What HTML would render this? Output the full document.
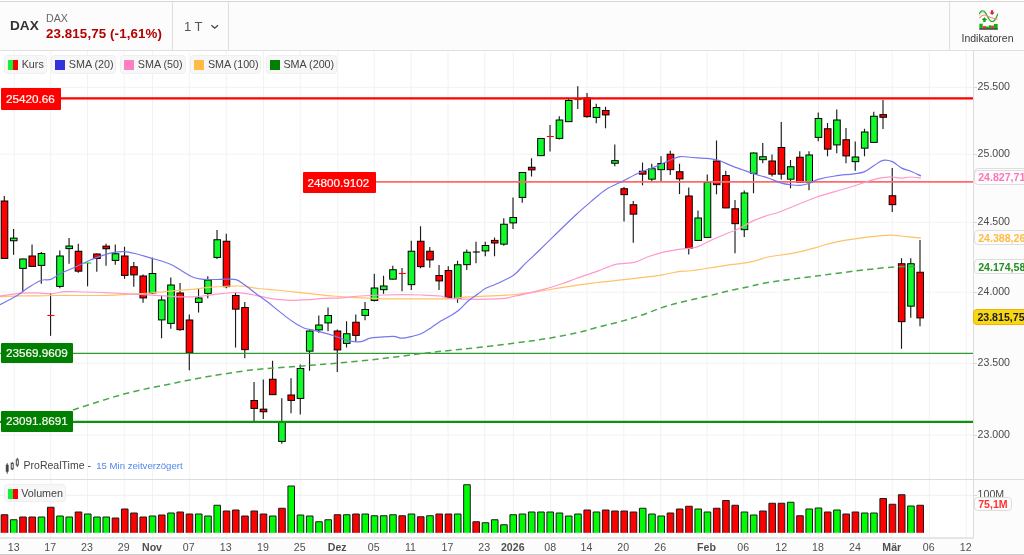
<!DOCTYPE html>
<html lang="de"><head><meta charset="utf-8"><title>DAX Chart</title>
<style>
html,body{margin:0;padding:0;}
body{width:1024px;height:555px;overflow:hidden;background:#fff;font-family:"Liberation Sans",sans-serif;position:relative;color:#444;}
#hdr{position:absolute;left:0;top:0;width:1024px;height:50px;background:#fcfcfc;border-top:1px solid #fff;box-sizing:border-box;}
#hdr .tl{position:absolute;left:0;top:0;width:1024px;height:1px;background:#d6d6d6;}
#hdr .bl{position:absolute;left:0;top:48.8px;width:1024px;height:1.15px;background:#e0e0e0;}
.vsep{position:absolute;top:1px;width:1.25px;height:47.8px;background:#dedede;}
#sym{position:absolute;left:10px;top:17px;font-size:13.6px;font-weight:bold;color:#333;line-height:16px;}
#nm{position:absolute;left:46px;top:11px;font-size:10.7px;color:#666;line-height:13px;}
#px{position:absolute;left:46px;top:25px;font-size:13.3px;letter-spacing:0.12px;font-weight:bold;color:#b30000;line-height:16px;white-space:nowrap;}
#tf{position:absolute;left:184px;top:18px;font-size:13px;color:#555;line-height:16px;}
#ind{position:absolute;left:950px;top:31.2px;width:75px;text-align:center;font-size:10.5px;color:#3a3a3a;line-height:12px;}
#axis{position:absolute;left:973px;top:51px;width:51px;height:486px;background:#fcfcfc;border-left:1.3px solid #dcdcdc;box-sizing:border-box;}
#xaxis{position:absolute;left:0;top:537px;width:1024px;height:16.5px;background:#fcfcfc;border-bottom:1.5px solid #cfcfcf;}
#xaxis span{position:absolute;top:2.5px;width:40px;text-align:center;font-size:10.6px;color:#505050;line-height:14px;}
#xaxis span.b{font-weight:bold;}
.chip{position:absolute;box-sizing:border-box;background:#f7f7f7;border:1px solid #efefef;border-radius:3.5px;font-size:10.75px;color:#444;line-height:16px;height:18.3px;top:55.3px;white-space:nowrap;}
.chip i{position:absolute;left:2.7px;top:3.8px;width:10px;height:10px;}
.chip b{font-weight:normal;position:absolute;left:16.5px;top:-0.2px;}
.ylab{position:absolute;left:977.6px;font-size:10.6px;color:#4a4a4a;line-height:12px;}
.tag{position:absolute;box-sizing:border-box;border-radius:1px;-webkit-text-stroke:0.2px #fff;font-size:11.7px;color:#fff4f4;line-height:21px;height:21.5px;padding:0 0 0 5px;white-space:nowrap;}
.pchip{position:absolute;left:973.6px;box-sizing:border-box;width:60px;height:14.8px;border:1px solid #dedede;border-radius:4px;background:#fcfcfc;font-size:10.6px;font-weight:bold;line-height:14.2px;padding-left:3.6px;white-space:nowrap;}
svg{position:absolute;left:0;top:0;}
</style></head><body>
<svg width="1024" height="555" viewBox="0 0 1024 555">
<line x1="14.25" y1="51" x2="14.25" y2="537" stroke="#f2f2f2" stroke-width="1"/>
<line x1="50.75" y1="51" x2="50.75" y2="537" stroke="#f2f2f2" stroke-width="1"/>
<line x1="87.50" y1="51" x2="87.50" y2="537" stroke="#f2f2f2" stroke-width="1"/>
<line x1="124.25" y1="51" x2="124.25" y2="537" stroke="#f2f2f2" stroke-width="1"/>
<line x1="152.50" y1="51" x2="152.50" y2="537" stroke="#f2f2f2" stroke-width="1"/>
<line x1="189.25" y1="51" x2="189.25" y2="537" stroke="#f2f2f2" stroke-width="1"/>
<line x1="226.25" y1="51" x2="226.25" y2="537" stroke="#f2f2f2" stroke-width="1"/>
<line x1="263.50" y1="51" x2="263.50" y2="537" stroke="#f2f2f2" stroke-width="1"/>
<line x1="300.25" y1="51" x2="300.25" y2="537" stroke="#f2f2f2" stroke-width="1"/>
<line x1="337.75" y1="51" x2="337.75" y2="537" stroke="#f2f2f2" stroke-width="1"/>
<line x1="374.25" y1="51" x2="374.25" y2="537" stroke="#f2f2f2" stroke-width="1"/>
<line x1="411.00" y1="51" x2="411.00" y2="537" stroke="#f2f2f2" stroke-width="1"/>
<line x1="448.00" y1="51" x2="448.00" y2="537" stroke="#f2f2f2" stroke-width="1"/>
<line x1="484.75" y1="51" x2="484.75" y2="537" stroke="#f2f2f2" stroke-width="1"/>
<line x1="513.25" y1="51" x2="513.25" y2="537" stroke="#f2f2f2" stroke-width="1"/>
<line x1="550.75" y1="51" x2="550.75" y2="537" stroke="#f2f2f2" stroke-width="1"/>
<line x1="587.00" y1="51" x2="587.00" y2="537" stroke="#f2f2f2" stroke-width="1"/>
<line x1="623.75" y1="51" x2="623.75" y2="537" stroke="#f2f2f2" stroke-width="1"/>
<line x1="660.75" y1="51" x2="660.75" y2="537" stroke="#f2f2f2" stroke-width="1"/>
<line x1="707.00" y1="51" x2="707.00" y2="537" stroke="#f2f2f2" stroke-width="1"/>
<line x1="743.75" y1="51" x2="743.75" y2="537" stroke="#f2f2f2" stroke-width="1"/>
<line x1="781.75" y1="51" x2="781.75" y2="537" stroke="#f2f2f2" stroke-width="1"/>
<line x1="818.50" y1="51" x2="818.50" y2="537" stroke="#f2f2f2" stroke-width="1"/>
<line x1="855.50" y1="51" x2="855.50" y2="537" stroke="#f2f2f2" stroke-width="1"/>
<line x1="892.25" y1="51" x2="892.25" y2="537" stroke="#f2f2f2" stroke-width="1"/>
<line x1="929.25" y1="51" x2="929.25" y2="537" stroke="#f2f2f2" stroke-width="1"/>
<line x1="966.25" y1="51" x2="966.25" y2="537" stroke="#f2f2f2" stroke-width="1"/>
<line x1="0" y1="87.3" x2="973" y2="87.3" stroke="#f2f2f2" stroke-width="1"/>
<line x1="0" y1="154.2" x2="973" y2="154.2" stroke="#f2f2f2" stroke-width="1"/>
<line x1="0" y1="222.3" x2="973" y2="222.3" stroke="#f2f2f2" stroke-width="1"/>
<line x1="0" y1="292.2" x2="973" y2="292.2" stroke="#f2f2f2" stroke-width="1"/>
<line x1="0" y1="363.2" x2="973" y2="363.2" stroke="#f2f2f2" stroke-width="1"/>
<line x1="0" y1="435.0" x2="973" y2="435.0" stroke="#f2f2f2" stroke-width="1"/>
<line x1="0" y1="495.3" x2="973" y2="495.3" stroke="#efefef" stroke-width="1"/>
<line x1="4.30" y1="196.0" x2="4.30" y2="258.8" stroke="#1c1c1c" stroke-width="1.15"/>
<rect x="1.20" y="201.00" width="6.6" height="57.40" fill="#ff0000" stroke="#000" stroke-width="1"/>
<line x1="13.55" y1="229.0" x2="13.55" y2="254.8" stroke="#1c1c1c" stroke-width="1.15"/>
<rect x="10.45" y="238.15" width="6.6" height="2.60" fill="#10fa2c" stroke="#000" stroke-width="1"/>
<line x1="22.80" y1="258.5" x2="22.80" y2="291.8" stroke="#1c1c1c" stroke-width="1.15"/>
<rect x="19.70" y="259.00" width="6.6" height="9.40" fill="#10fa2c" stroke="#000" stroke-width="1"/>
<line x1="32.05" y1="244.5" x2="32.05" y2="266.8" stroke="#1c1c1c" stroke-width="1.15"/>
<rect x="28.95" y="256.00" width="6.6" height="10.40" fill="#ff0000" stroke="#000" stroke-width="1"/>
<line x1="41.30" y1="252.0" x2="41.30" y2="283.8" stroke="#1c1c1c" stroke-width="1.15"/>
<rect x="38.20" y="253.50" width="6.6" height="11.90" fill="#10fa2c" stroke="#000" stroke-width="1"/>
<line x1="50.55" y1="293.0" x2="50.55" y2="335.8" stroke="#1c1c1c" stroke-width="1.15"/>
<line x1="47.35" y1="315.5" x2="54.35" y2="315.5" stroke="#ff0000" stroke-width="1.1"/>
<line x1="59.80" y1="250.5" x2="59.80" y2="288.3" stroke="#1c1c1c" stroke-width="1.15"/>
<rect x="56.70" y="256.00" width="6.6" height="30.40" fill="#10fa2c" stroke="#000" stroke-width="1"/>
<line x1="69.05" y1="238.0" x2="69.05" y2="263.8" stroke="#1c1c1c" stroke-width="1.15"/>
<rect x="65.95" y="246.02" width="6.6" height="2.60" fill="#10fa2c" stroke="#000" stroke-width="1"/>
<line x1="78.30" y1="243.75" x2="78.30" y2="272.8" stroke="#1c1c1c" stroke-width="1.15"/>
<rect x="75.20" y="251.25" width="6.6" height="19.90" fill="#ff0000" stroke="#000" stroke-width="1"/>
<line x1="87.55" y1="263.0" x2="87.55" y2="286.3" stroke="#1c1c1c" stroke-width="1.15"/>
<line x1="84.35" y1="263.0" x2="91.35" y2="263.0" stroke="#00dd00" stroke-width="1.1"/>
<line x1="96.79" y1="253.5" x2="96.79" y2="271.8" stroke="#1c1c1c" stroke-width="1.15"/>
<rect x="93.69" y="254.00" width="6.6" height="4.40" fill="#ff0000" stroke="#000" stroke-width="1"/>
<line x1="106.04" y1="243.75" x2="106.04" y2="265.8" stroke="#1c1c1c" stroke-width="1.15"/>
<rect x="102.94" y="246.15" width="6.6" height="2.60" fill="#ff0000" stroke="#000" stroke-width="1"/>
<line x1="115.29" y1="244.5" x2="115.29" y2="264.8" stroke="#1c1c1c" stroke-width="1.15"/>
<rect x="112.19" y="253.75" width="6.6" height="6.65" fill="#10fa2c" stroke="#000" stroke-width="1"/>
<line x1="124.54" y1="246.75" x2="124.54" y2="278.8" stroke="#1c1c1c" stroke-width="1.15"/>
<rect x="121.44" y="256.00" width="6.6" height="19.40" fill="#ff0000" stroke="#000" stroke-width="1"/>
<line x1="133.79" y1="262.0" x2="133.79" y2="286.8" stroke="#1c1c1c" stroke-width="1.15"/>
<rect x="130.69" y="266.75" width="6.6" height="8.15" fill="#ff0000" stroke="#000" stroke-width="1"/>
<line x1="143.04" y1="274.5" x2="143.04" y2="302.8" stroke="#1c1c1c" stroke-width="1.15"/>
<rect x="139.94" y="276.00" width="6.6" height="21.90" fill="#ff0000" stroke="#000" stroke-width="1"/>
<line x1="152.29" y1="257.5" x2="152.29" y2="293.8" stroke="#1c1c1c" stroke-width="1.15"/>
<rect x="149.19" y="273.50" width="6.6" height="19.40" fill="#10fa2c" stroke="#000" stroke-width="1"/>
<line x1="161.54" y1="295.5" x2="161.54" y2="338.3" stroke="#1c1c1c" stroke-width="1.15"/>
<rect x="158.44" y="300.00" width="6.6" height="19.90" fill="#10fa2c" stroke="#000" stroke-width="1"/>
<line x1="170.79" y1="277.5" x2="170.79" y2="328.8" stroke="#1c1c1c" stroke-width="1.15"/>
<rect x="167.69" y="285.00" width="6.6" height="38.40" fill="#10fa2c" stroke="#000" stroke-width="1"/>
<line x1="180.04" y1="283.0" x2="180.04" y2="330.8" stroke="#1c1c1c" stroke-width="1.15"/>
<rect x="176.94" y="293.00" width="6.6" height="36.65" fill="#ff0000" stroke="#000" stroke-width="1"/>
<line x1="189.29" y1="314.5" x2="189.29" y2="370.3" stroke="#1c1c1c" stroke-width="1.15"/>
<rect x="186.19" y="320.00" width="6.6" height="32.90" fill="#ff0000" stroke="#000" stroke-width="1"/>
<line x1="198.54" y1="288.75" x2="198.54" y2="312.55" stroke="#1c1c1c" stroke-width="1.15"/>
<rect x="195.44" y="298.00" width="6.6" height="4.40" fill="#10fa2c" stroke="#000" stroke-width="1"/>
<line x1="207.79" y1="276.25" x2="207.79" y2="298.3" stroke="#1c1c1c" stroke-width="1.15"/>
<rect x="204.69" y="280.00" width="6.6" height="13.40" fill="#10fa2c" stroke="#000" stroke-width="1"/>
<line x1="217.04" y1="230.0" x2="217.04" y2="259.05" stroke="#1c1c1c" stroke-width="1.15"/>
<rect x="213.94" y="239.75" width="6.6" height="17.65" fill="#10fa2c" stroke="#000" stroke-width="1"/>
<line x1="226.29" y1="233.75" x2="226.29" y2="288.3" stroke="#1c1c1c" stroke-width="1.15"/>
<rect x="223.19" y="241.25" width="6.6" height="45.40" fill="#ff0000" stroke="#000" stroke-width="1"/>
<line x1="235.54" y1="292.5" x2="235.54" y2="347.55" stroke="#1c1c1c" stroke-width="1.15"/>
<rect x="232.44" y="295.50" width="6.6" height="13.65" fill="#ff0000" stroke="#000" stroke-width="1"/>
<line x1="244.79" y1="302.0" x2="244.79" y2="358.3" stroke="#1c1c1c" stroke-width="1.15"/>
<rect x="241.69" y="307.50" width="6.6" height="42.15" fill="#ff0000" stroke="#000" stroke-width="1"/>
<line x1="254.04" y1="382.0" x2="254.04" y2="421.8" stroke="#1c1c1c" stroke-width="1.15"/>
<rect x="250.94" y="400.50" width="6.6" height="7.90" fill="#ff0000" stroke="#000" stroke-width="1"/>
<line x1="263.29" y1="379.5" x2="263.29" y2="419.05" stroke="#1c1c1c" stroke-width="1.15"/>
<rect x="260.19" y="409.15" width="6.6" height="2.60" fill="#ff0000" stroke="#000" stroke-width="1"/>
<line x1="272.54" y1="360.75" x2="272.54" y2="395.05" stroke="#1c1c1c" stroke-width="1.15"/>
<rect x="269.44" y="379.25" width="6.6" height="15.40" fill="#ff0000" stroke="#000" stroke-width="1"/>
<line x1="281.78" y1="398.25" x2="281.78" y2="443.8" stroke="#1c1c1c" stroke-width="1.15"/>
<rect x="278.68" y="422.50" width="6.6" height="18.90" fill="#10fa2c" stroke="#000" stroke-width="1"/>
<line x1="291.03" y1="378.25" x2="291.03" y2="413.3" stroke="#1c1c1c" stroke-width="1.15"/>
<rect x="287.93" y="395.00" width="6.6" height="5.40" fill="#ff0000" stroke="#000" stroke-width="1"/>
<line x1="300.28" y1="364.5" x2="300.28" y2="414.55" stroke="#1c1c1c" stroke-width="1.15"/>
<rect x="297.18" y="368.50" width="6.6" height="29.90" fill="#10fa2c" stroke="#000" stroke-width="1"/>
<line x1="309.53" y1="330.5" x2="309.53" y2="370.8" stroke="#1c1c1c" stroke-width="1.15"/>
<rect x="306.43" y="331.00" width="6.6" height="20.15" fill="#10fa2c" stroke="#000" stroke-width="1"/>
<line x1="318.78" y1="315.5" x2="318.78" y2="332.8" stroke="#1c1c1c" stroke-width="1.15"/>
<rect x="315.68" y="325.00" width="6.6" height="4.90" fill="#10fa2c" stroke="#000" stroke-width="1"/>
<line x1="328.03" y1="307.5" x2="328.03" y2="331.3" stroke="#1c1c1c" stroke-width="1.15"/>
<rect x="324.93" y="315.50" width="6.6" height="7.40" fill="#10fa2c" stroke="#000" stroke-width="1"/>
<line x1="337.28" y1="329.5" x2="337.28" y2="372.05" stroke="#1c1c1c" stroke-width="1.15"/>
<rect x="334.18" y="331.00" width="6.6" height="18.90" fill="#ff0000" stroke="#000" stroke-width="1"/>
<line x1="346.53" y1="321.25" x2="346.53" y2="347.55" stroke="#1c1c1c" stroke-width="1.15"/>
<rect x="343.43" y="333.75" width="6.6" height="9.65" fill="#10fa2c" stroke="#000" stroke-width="1"/>
<line x1="355.78" y1="314.5" x2="355.78" y2="342.05" stroke="#1c1c1c" stroke-width="1.15"/>
<rect x="352.68" y="322.25" width="6.6" height="13.15" fill="#ff0000" stroke="#000" stroke-width="1"/>
<line x1="365.03" y1="302.0" x2="365.03" y2="320.3" stroke="#1c1c1c" stroke-width="1.15"/>
<rect x="361.93" y="309.50" width="6.6" height="5.90" fill="#10fa2c" stroke="#000" stroke-width="1"/>
<line x1="374.28" y1="273.75" x2="374.28" y2="301.55" stroke="#1c1c1c" stroke-width="1.15"/>
<rect x="371.18" y="288.00" width="6.6" height="12.40" fill="#10fa2c" stroke="#000" stroke-width="1"/>
<line x1="383.53" y1="275.75" x2="383.53" y2="293.8" stroke="#1c1c1c" stroke-width="1.15"/>
<rect x="380.43" y="286.00" width="6.6" height="3.65" fill="#10fa2c" stroke="#000" stroke-width="1"/>
<line x1="392.78" y1="265.75" x2="392.78" y2="279.55" stroke="#1c1c1c" stroke-width="1.15"/>
<rect x="389.68" y="269.75" width="6.6" height="9.40" fill="#10fa2c" stroke="#000" stroke-width="1"/>
<line x1="402.03" y1="268.0" x2="402.03" y2="291.3" stroke="#1c1c1c" stroke-width="1.15"/>
<line x1="398.83" y1="273.5" x2="405.83" y2="273.5" stroke="#ff0000" stroke-width="1.1"/>
<line x1="411.28" y1="240.75" x2="411.28" y2="290.05" stroke="#1c1c1c" stroke-width="1.15"/>
<rect x="408.18" y="251.25" width="6.6" height="33.40" fill="#10fa2c" stroke="#000" stroke-width="1"/>
<line x1="420.53" y1="226.25" x2="420.53" y2="268.3" stroke="#1c1c1c" stroke-width="1.15"/>
<rect x="417.43" y="241.25" width="6.6" height="25.40" fill="#ff0000" stroke="#000" stroke-width="1"/>
<line x1="429.78" y1="247.0" x2="429.78" y2="267.8" stroke="#1c1c1c" stroke-width="1.15"/>
<rect x="426.68" y="251.25" width="6.6" height="8.65" fill="#ff0000" stroke="#000" stroke-width="1"/>
<line x1="439.03" y1="265.0" x2="439.03" y2="290.05" stroke="#1c1c1c" stroke-width="1.15"/>
<rect x="435.93" y="275.50" width="6.6" height="5.40" fill="#ff0000" stroke="#000" stroke-width="1"/>
<line x1="448.28" y1="266.25" x2="448.28" y2="298.3" stroke="#1c1c1c" stroke-width="1.15"/>
<rect x="445.18" y="270.50" width="6.6" height="26.90" fill="#ff0000" stroke="#000" stroke-width="1"/>
<line x1="457.53" y1="260.75" x2="457.53" y2="302.8" stroke="#1c1c1c" stroke-width="1.15"/>
<rect x="454.43" y="264.75" width="6.6" height="33.65" fill="#10fa2c" stroke="#000" stroke-width="1"/>
<line x1="466.77" y1="249.5" x2="466.77" y2="270.05" stroke="#1c1c1c" stroke-width="1.15"/>
<rect x="463.67" y="252.25" width="6.6" height="12.40" fill="#10fa2c" stroke="#000" stroke-width="1"/>
<line x1="476.02" y1="241.75" x2="476.02" y2="263.3" stroke="#1c1c1c" stroke-width="1.15"/>
<line x1="472.82" y1="252.0" x2="479.82" y2="252.0" stroke="#000" stroke-width="1.1"/>
<line x1="485.27" y1="241.75" x2="485.27" y2="256.3" stroke="#1c1c1c" stroke-width="1.15"/>
<rect x="482.17" y="245.50" width="6.6" height="5.40" fill="#10fa2c" stroke="#000" stroke-width="1"/>
<line x1="494.52" y1="237.5" x2="494.52" y2="256.3" stroke="#1c1c1c" stroke-width="1.15"/>
<rect x="491.42" y="240.40" width="6.6" height="2.60" fill="#ff0000" stroke="#000" stroke-width="1"/>
<line x1="503.77" y1="218.25" x2="503.77" y2="245.8" stroke="#1c1c1c" stroke-width="1.15"/>
<rect x="500.67" y="224.25" width="6.6" height="19.90" fill="#10fa2c" stroke="#000" stroke-width="1"/>
<line x1="513.02" y1="197.5" x2="513.02" y2="229.05" stroke="#1c1c1c" stroke-width="1.15"/>
<rect x="509.92" y="217.50" width="6.6" height="5.40" fill="#10fa2c" stroke="#000" stroke-width="1"/>
<line x1="522.27" y1="172.0" x2="522.27" y2="202.8" stroke="#1c1c1c" stroke-width="1.15"/>
<rect x="519.17" y="172.50" width="6.6" height="24.90" fill="#10fa2c" stroke="#000" stroke-width="1"/>
<line x1="531.52" y1="158.25" x2="531.52" y2="176.55" stroke="#1c1c1c" stroke-width="1.15"/>
<rect x="528.42" y="167.27" width="6.6" height="2.60" fill="#ff0000" stroke="#000" stroke-width="1"/>
<line x1="540.77" y1="138.0" x2="540.77" y2="156.05" stroke="#1c1c1c" stroke-width="1.15"/>
<rect x="537.67" y="138.50" width="6.6" height="17.15" fill="#10fa2c" stroke="#000" stroke-width="1"/>
<line x1="550.02" y1="125.0" x2="550.02" y2="151.55" stroke="#1c1c1c" stroke-width="1.15"/>
<line x1="546.82" y1="136.5" x2="553.82" y2="136.5" stroke="#ff0000" stroke-width="1.1"/>
<line x1="559.27" y1="116.25" x2="559.27" y2="139.55" stroke="#1c1c1c" stroke-width="1.15"/>
<rect x="556.17" y="120.00" width="6.6" height="18.40" fill="#10fa2c" stroke="#000" stroke-width="1"/>
<line x1="568.52" y1="98.0" x2="568.52" y2="122.05" stroke="#1c1c1c" stroke-width="1.15"/>
<rect x="565.42" y="100.50" width="6.6" height="21.15" fill="#10fa2c" stroke="#000" stroke-width="1"/>
<line x1="577.77" y1="86.25" x2="577.77" y2="109.05" stroke="#1c1c1c" stroke-width="1.15"/>
<line x1="574.57" y1="99.6" x2="581.57" y2="99.6" stroke="#5a6a00" stroke-width="1.1"/>
<line x1="587.02" y1="93.0" x2="587.02" y2="117.8" stroke="#1c1c1c" stroke-width="1.15"/>
<rect x="583.92" y="98.00" width="6.6" height="18.65" fill="#ff0000" stroke="#000" stroke-width="1"/>
<line x1="596.27" y1="103.75" x2="596.27" y2="123.3" stroke="#1c1c1c" stroke-width="1.15"/>
<rect x="593.17" y="107.50" width="6.6" height="9.90" fill="#10fa2c" stroke="#000" stroke-width="1"/>
<line x1="605.52" y1="106.75" x2="605.52" y2="128.3" stroke="#1c1c1c" stroke-width="1.15"/>
<rect x="602.42" y="110.50" width="6.6" height="4.40" fill="#ff0000" stroke="#000" stroke-width="1"/>
<line x1="614.77" y1="144.5" x2="614.77" y2="166.3" stroke="#1c1c1c" stroke-width="1.15"/>
<rect x="611.67" y="160.65" width="6.6" height="2.60" fill="#10fa2c" stroke="#000" stroke-width="1"/>
<line x1="624.02" y1="187.0" x2="624.02" y2="221.55" stroke="#1c1c1c" stroke-width="1.15"/>
<rect x="620.92" y="188.75" width="6.6" height="5.90" fill="#ff0000" stroke="#000" stroke-width="1"/>
<line x1="633.27" y1="201.0" x2="633.27" y2="242.8" stroke="#1c1c1c" stroke-width="1.15"/>
<rect x="630.17" y="204.75" width="6.6" height="9.40" fill="#ff0000" stroke="#000" stroke-width="1"/>
<line x1="642.52" y1="162.5" x2="642.52" y2="185.3" stroke="#1c1c1c" stroke-width="1.15"/>
<rect x="639.42" y="171.25" width="6.6" height="2.90" fill="#ff0000" stroke="#000" stroke-width="1"/>
<line x1="651.76" y1="163.75" x2="651.76" y2="182.05" stroke="#1c1c1c" stroke-width="1.15"/>
<rect x="648.66" y="168.75" width="6.6" height="10.40" fill="#10fa2c" stroke="#000" stroke-width="1"/>
<line x1="661.01" y1="156.25" x2="661.01" y2="182.05" stroke="#1c1c1c" stroke-width="1.15"/>
<rect x="657.91" y="163.50" width="6.6" height="6.15" fill="#10fa2c" stroke="#000" stroke-width="1"/>
<line x1="670.26" y1="150.75" x2="670.26" y2="175.05" stroke="#1c1c1c" stroke-width="1.15"/>
<rect x="667.16" y="154.25" width="6.6" height="15.40" fill="#ff0000" stroke="#000" stroke-width="1"/>
<line x1="679.51" y1="163.75" x2="679.51" y2="194.05" stroke="#1c1c1c" stroke-width="1.15"/>
<rect x="676.41" y="171.75" width="6.6" height="7.15" fill="#ff0000" stroke="#000" stroke-width="1"/>
<line x1="688.76" y1="187.5" x2="688.76" y2="254.55" stroke="#1c1c1c" stroke-width="1.15"/>
<rect x="685.66" y="196.00" width="6.6" height="52.40" fill="#ff0000" stroke="#000" stroke-width="1"/>
<line x1="698.01" y1="210.5" x2="698.01" y2="240.8" stroke="#1c1c1c" stroke-width="1.15"/>
<rect x="694.91" y="218.00" width="6.6" height="22.40" fill="#10fa2c" stroke="#000" stroke-width="1"/>
<line x1="707.26" y1="174.5" x2="707.26" y2="237.8" stroke="#1c1c1c" stroke-width="1.15"/>
<rect x="704.16" y="182.50" width="6.6" height="54.90" fill="#10fa2c" stroke="#000" stroke-width="1"/>
<line x1="716.51" y1="140.5" x2="716.51" y2="194.3" stroke="#1c1c1c" stroke-width="1.15"/>
<rect x="713.41" y="161.00" width="6.6" height="23.65" fill="#ff0000" stroke="#000" stroke-width="1"/>
<line x1="725.76" y1="170.75" x2="725.76" y2="208.3" stroke="#1c1c1c" stroke-width="1.15"/>
<rect x="722.66" y="175.50" width="6.6" height="32.40" fill="#ff0000" stroke="#000" stroke-width="1"/>
<line x1="735.01" y1="200.0" x2="735.01" y2="253.3" stroke="#1c1c1c" stroke-width="1.15"/>
<rect x="731.91" y="208.75" width="6.6" height="14.90" fill="#ff0000" stroke="#000" stroke-width="1"/>
<line x1="744.26" y1="190.5" x2="744.26" y2="237.05" stroke="#1c1c1c" stroke-width="1.15"/>
<rect x="741.16" y="193.00" width="6.6" height="36.65" fill="#10fa2c" stroke="#000" stroke-width="1"/>
<line x1="753.51" y1="152.5" x2="753.51" y2="193.3" stroke="#1c1c1c" stroke-width="1.15"/>
<rect x="750.41" y="153.00" width="6.6" height="20.40" fill="#10fa2c" stroke="#000" stroke-width="1"/>
<line x1="762.76" y1="143.0" x2="762.76" y2="163.3" stroke="#1c1c1c" stroke-width="1.15"/>
<rect x="759.66" y="156.75" width="6.6" height="2.90" fill="#10fa2c" stroke="#000" stroke-width="1"/>
<line x1="772.01" y1="154.5" x2="772.01" y2="176.55" stroke="#1c1c1c" stroke-width="1.15"/>
<rect x="768.91" y="161.00" width="6.6" height="13.15" fill="#ff0000" stroke="#000" stroke-width="1"/>
<line x1="781.26" y1="122.0" x2="781.26" y2="179.55" stroke="#1c1c1c" stroke-width="1.15"/>
<rect x="778.16" y="147.50" width="6.6" height="26.65" fill="#ff0000" stroke="#000" stroke-width="1"/>
<line x1="790.51" y1="160.0" x2="790.51" y2="188.3" stroke="#1c1c1c" stroke-width="1.15"/>
<rect x="787.41" y="166.75" width="6.6" height="12.40" fill="#10fa2c" stroke="#000" stroke-width="1"/>
<line x1="799.76" y1="151.25" x2="799.76" y2="182.8" stroke="#1c1c1c" stroke-width="1.15"/>
<rect x="796.66" y="157.25" width="6.6" height="25.15" fill="#ff0000" stroke="#000" stroke-width="1"/>
<line x1="809.01" y1="151.25" x2="809.01" y2="190.3" stroke="#1c1c1c" stroke-width="1.15"/>
<rect x="805.91" y="155.00" width="6.6" height="27.40" fill="#10fa2c" stroke="#000" stroke-width="1"/>
<line x1="818.26" y1="112.5" x2="818.26" y2="141.3" stroke="#1c1c1c" stroke-width="1.15"/>
<rect x="815.16" y="118.50" width="6.6" height="18.90" fill="#10fa2c" stroke="#000" stroke-width="1"/>
<line x1="827.51" y1="123.0" x2="827.51" y2="156.3" stroke="#1c1c1c" stroke-width="1.15"/>
<rect x="824.41" y="128.75" width="6.6" height="20.40" fill="#ff0000" stroke="#000" stroke-width="1"/>
<line x1="836.75" y1="109.5" x2="836.75" y2="153.3" stroke="#1c1c1c" stroke-width="1.15"/>
<rect x="833.65" y="120.00" width="6.6" height="24.90" fill="#10fa2c" stroke="#000" stroke-width="1"/>
<line x1="846.00" y1="128.0" x2="846.00" y2="163.3" stroke="#1c1c1c" stroke-width="1.15"/>
<rect x="842.90" y="139.75" width="6.6" height="16.15" fill="#ff0000" stroke="#000" stroke-width="1"/>
<line x1="855.25" y1="141.5" x2="855.25" y2="170.8" stroke="#1c1c1c" stroke-width="1.15"/>
<rect x="852.15" y="157.00" width="6.6" height="4.65" fill="#10fa2c" stroke="#000" stroke-width="1"/>
<line x1="864.50" y1="128.75" x2="864.50" y2="156.3" stroke="#1c1c1c" stroke-width="1.15"/>
<rect x="861.40" y="132.00" width="6.6" height="16.15" fill="#10fa2c" stroke="#000" stroke-width="1"/>
<line x1="873.75" y1="111.75" x2="873.75" y2="142.8" stroke="#1c1c1c" stroke-width="1.15"/>
<rect x="870.65" y="116.25" width="6.6" height="26.15" fill="#10fa2c" stroke="#000" stroke-width="1"/>
<line x1="883.00" y1="100.0" x2="883.00" y2="129.05" stroke="#1c1c1c" stroke-width="1.15"/>
<rect x="879.90" y="114.65" width="6.6" height="2.60" fill="#ff0000" stroke="#000" stroke-width="1"/>
<line x1="892.25" y1="168.0" x2="892.25" y2="212.05" stroke="#1c1c1c" stroke-width="1.15"/>
<rect x="889.15" y="195.75" width="6.6" height="8.90" fill="#ff0000" stroke="#000" stroke-width="1"/>
<line x1="901.50" y1="258.25" x2="901.50" y2="348.8" stroke="#1c1c1c" stroke-width="1.15"/>
<rect x="898.40" y="263.75" width="6.6" height="57.90" fill="#ff0000" stroke="#000" stroke-width="1"/>
<line x1="910.75" y1="258.25" x2="910.75" y2="317.8" stroke="#1c1c1c" stroke-width="1.15"/>
<rect x="907.65" y="263.75" width="6.6" height="42.40" fill="#10fa2c" stroke="#000" stroke-width="1"/>
<line x1="920.00" y1="240.0" x2="920.00" y2="326.3" stroke="#1c1c1c" stroke-width="1.15"/>
<rect x="916.90" y="272.25" width="6.6" height="45.65" fill="#ff0000" stroke="#000" stroke-width="1"/>
<rect x="1.20" y="514.75" width="6.6" height="18.049999999999955" fill="#ff0000"/>
<path d="M1.20,532.8 V514.75 H7.80 V532.8" fill="none" stroke="#1a1a1a" stroke-width="1"/>
<rect x="10.45" y="519.75" width="6.6" height="13.049999999999955" fill="#00fc04"/>
<path d="M10.45,532.8 V519.75 H17.05 V532.8" fill="none" stroke="#1a1a1a" stroke-width="1"/>
<rect x="19.70" y="517.0" width="6.6" height="15.799999999999955" fill="#ff0000"/>
<path d="M19.70,532.8 V517.0 H26.30 V532.8" fill="none" stroke="#1a1a1a" stroke-width="1"/>
<rect x="28.95" y="517.0" width="6.6" height="15.799999999999955" fill="#ff0000"/>
<path d="M28.95,532.8 V517.0 H35.55 V532.8" fill="none" stroke="#1a1a1a" stroke-width="1"/>
<rect x="38.20" y="517.0" width="6.6" height="15.799999999999955" fill="#00fc04"/>
<path d="M38.20,532.8 V517.0 H44.80 V532.8" fill="none" stroke="#1a1a1a" stroke-width="1"/>
<rect x="47.45" y="507.25" width="6.6" height="25.549999999999955" fill="#ff0000"/>
<path d="M47.45,532.8 V507.25 H54.05 V532.8" fill="none" stroke="#1a1a1a" stroke-width="1"/>
<rect x="56.70" y="516.0" width="6.6" height="16.799999999999955" fill="#00fc04"/>
<path d="M56.70,532.8 V516.0 H63.30 V532.8" fill="none" stroke="#1a1a1a" stroke-width="1"/>
<rect x="65.95" y="517.0" width="6.6" height="15.799999999999955" fill="#00fc04"/>
<path d="M65.95,532.8 V517.0 H72.55 V532.8" fill="none" stroke="#1a1a1a" stroke-width="1"/>
<rect x="75.20" y="512.0" width="6.6" height="20.799999999999955" fill="#ff0000"/>
<path d="M75.20,532.8 V512.0 H81.80 V532.8" fill="none" stroke="#1a1a1a" stroke-width="1"/>
<rect x="84.45" y="514.0" width="6.6" height="18.799999999999955" fill="#00fc04"/>
<path d="M84.45,532.8 V514.0 H91.05 V532.8" fill="none" stroke="#1a1a1a" stroke-width="1"/>
<rect x="93.69" y="517.0" width="6.6" height="15.799999999999955" fill="#00fc04"/>
<path d="M93.69,532.8 V517.0 H100.29 V532.8" fill="none" stroke="#1a1a1a" stroke-width="1"/>
<rect x="102.94" y="517.0" width="6.6" height="15.799999999999955" fill="#00fc04"/>
<path d="M102.94,532.8 V517.0 H109.54 V532.8" fill="none" stroke="#1a1a1a" stroke-width="1"/>
<rect x="112.19" y="518.0" width="6.6" height="14.799999999999955" fill="#ff0000"/>
<path d="M112.19,532.8 V518.0 H118.79 V532.8" fill="none" stroke="#1a1a1a" stroke-width="1"/>
<rect x="121.44" y="509.0" width="6.6" height="23.799999999999955" fill="#ff0000"/>
<path d="M121.44,532.8 V509.0 H128.04 V532.8" fill="none" stroke="#1a1a1a" stroke-width="1"/>
<rect x="130.69" y="513.0" width="6.6" height="19.799999999999955" fill="#ff0000"/>
<path d="M130.69,532.8 V513.0 H137.29 V532.8" fill="none" stroke="#1a1a1a" stroke-width="1"/>
<rect x="139.94" y="517.0" width="6.6" height="15.799999999999955" fill="#ff0000"/>
<path d="M139.94,532.8 V517.0 H146.54 V532.8" fill="none" stroke="#1a1a1a" stroke-width="1"/>
<rect x="149.19" y="516.0" width="6.6" height="16.799999999999955" fill="#00fc04"/>
<path d="M149.19,532.8 V516.0 H155.79 V532.8" fill="none" stroke="#1a1a1a" stroke-width="1"/>
<rect x="158.44" y="515.0" width="6.6" height="17.799999999999955" fill="#ff0000"/>
<path d="M158.44,532.8 V515.0 H165.04 V532.8" fill="none" stroke="#1a1a1a" stroke-width="1"/>
<rect x="167.69" y="513.0" width="6.6" height="19.799999999999955" fill="#00fc04"/>
<path d="M167.69,532.8 V513.0 H174.29 V532.8" fill="none" stroke="#1a1a1a" stroke-width="1"/>
<rect x="176.94" y="512.0" width="6.6" height="20.799999999999955" fill="#ff0000"/>
<path d="M176.94,532.8 V512.0 H183.54 V532.8" fill="none" stroke="#1a1a1a" stroke-width="1"/>
<rect x="186.19" y="514.0" width="6.6" height="18.799999999999955" fill="#ff0000"/>
<path d="M186.19,532.8 V514.0 H192.79 V532.8" fill="none" stroke="#1a1a1a" stroke-width="1"/>
<rect x="195.44" y="514.0" width="6.6" height="18.799999999999955" fill="#00fc04"/>
<path d="M195.44,532.8 V514.0 H202.04 V532.8" fill="none" stroke="#1a1a1a" stroke-width="1"/>
<rect x="204.69" y="516.0" width="6.6" height="16.799999999999955" fill="#00fc04"/>
<path d="M204.69,532.8 V516.0 H211.29 V532.8" fill="none" stroke="#1a1a1a" stroke-width="1"/>
<rect x="213.94" y="505.25" width="6.6" height="27.549999999999955" fill="#00fc04"/>
<path d="M213.94,532.8 V505.25 H220.54 V532.8" fill="none" stroke="#1a1a1a" stroke-width="1"/>
<rect x="223.19" y="511.0" width="6.6" height="21.799999999999955" fill="#ff0000"/>
<path d="M223.19,532.8 V511.0 H229.79 V532.8" fill="none" stroke="#1a1a1a" stroke-width="1"/>
<rect x="232.44" y="510.0" width="6.6" height="22.799999999999955" fill="#ff0000"/>
<path d="M232.44,532.8 V510.0 H239.04 V532.8" fill="none" stroke="#1a1a1a" stroke-width="1"/>
<rect x="241.69" y="516.0" width="6.6" height="16.799999999999955" fill="#ff0000"/>
<path d="M241.69,532.8 V516.0 H248.29 V532.8" fill="none" stroke="#1a1a1a" stroke-width="1"/>
<rect x="250.94" y="511.0" width="6.6" height="21.799999999999955" fill="#ff0000"/>
<path d="M250.94,532.8 V511.0 H257.54 V532.8" fill="none" stroke="#1a1a1a" stroke-width="1"/>
<rect x="260.19" y="514.0" width="6.6" height="18.799999999999955" fill="#ff0000"/>
<path d="M260.19,532.8 V514.0 H266.79 V532.8" fill="none" stroke="#1a1a1a" stroke-width="1"/>
<rect x="269.44" y="516.0" width="6.6" height="16.799999999999955" fill="#00fc04"/>
<path d="M269.44,532.8 V516.0 H276.04 V532.8" fill="none" stroke="#1a1a1a" stroke-width="1"/>
<rect x="278.68" y="508.25" width="6.6" height="24.549999999999955" fill="#ff0000"/>
<path d="M278.68,532.8 V508.25 H285.28 V532.8" fill="none" stroke="#1a1a1a" stroke-width="1"/>
<rect x="287.93" y="486.0" width="6.6" height="46.799999999999955" fill="#00fc04"/>
<path d="M287.93,532.8 V486.0 H294.53 V532.8" fill="none" stroke="#1a1a1a" stroke-width="1"/>
<rect x="297.18" y="515.0" width="6.6" height="17.799999999999955" fill="#00fc04"/>
<path d="M297.18,532.8 V515.0 H303.78 V532.8" fill="none" stroke="#1a1a1a" stroke-width="1"/>
<rect x="306.43" y="516.0" width="6.6" height="16.799999999999955" fill="#00fc04"/>
<path d="M306.43,532.8 V516.0 H313.03 V532.8" fill="none" stroke="#1a1a1a" stroke-width="1"/>
<rect x="315.68" y="521.75" width="6.6" height="11.049999999999955" fill="#00fc04"/>
<path d="M315.68,532.8 V521.75 H322.28 V532.8" fill="none" stroke="#1a1a1a" stroke-width="1"/>
<rect x="324.93" y="519.75" width="6.6" height="13.049999999999955" fill="#00fc04"/>
<path d="M324.93,532.8 V519.75 H331.53 V532.8" fill="none" stroke="#1a1a1a" stroke-width="1"/>
<rect x="334.18" y="514.75" width="6.6" height="18.049999999999955" fill="#ff0000"/>
<path d="M334.18,532.8 V514.75 H340.78 V532.8" fill="none" stroke="#1a1a1a" stroke-width="1"/>
<rect x="343.43" y="514.75" width="6.6" height="18.049999999999955" fill="#00fc04"/>
<path d="M343.43,532.8 V514.75 H350.03 V532.8" fill="none" stroke="#1a1a1a" stroke-width="1"/>
<rect x="352.68" y="514.0" width="6.6" height="18.799999999999955" fill="#ff0000"/>
<path d="M352.68,532.8 V514.0 H359.28 V532.8" fill="none" stroke="#1a1a1a" stroke-width="1"/>
<rect x="361.93" y="514.0" width="6.6" height="18.799999999999955" fill="#00fc04"/>
<path d="M361.93,532.8 V514.0 H368.53 V532.8" fill="none" stroke="#1a1a1a" stroke-width="1"/>
<rect x="371.18" y="515.75" width="6.6" height="17.049999999999955" fill="#00fc04"/>
<path d="M371.18,532.8 V515.75 H377.78 V532.8" fill="none" stroke="#1a1a1a" stroke-width="1"/>
<rect x="380.43" y="515.75" width="6.6" height="17.049999999999955" fill="#00fc04"/>
<path d="M380.43,532.8 V515.75 H387.03 V532.8" fill="none" stroke="#1a1a1a" stroke-width="1"/>
<rect x="389.68" y="514.75" width="6.6" height="18.049999999999955" fill="#00fc04"/>
<path d="M389.68,532.8 V514.75 H396.28 V532.8" fill="none" stroke="#1a1a1a" stroke-width="1"/>
<rect x="398.93" y="515.75" width="6.6" height="17.049999999999955" fill="#ff0000"/>
<path d="M398.93,532.8 V515.75 H405.53 V532.8" fill="none" stroke="#1a1a1a" stroke-width="1"/>
<rect x="408.18" y="514.0" width="6.6" height="18.799999999999955" fill="#00fc04"/>
<path d="M408.18,532.8 V514.0 H414.78 V532.8" fill="none" stroke="#1a1a1a" stroke-width="1"/>
<rect x="417.43" y="516.75" width="6.6" height="16.049999999999955" fill="#ff0000"/>
<path d="M417.43,532.8 V516.75 H424.03 V532.8" fill="none" stroke="#1a1a1a" stroke-width="1"/>
<rect x="426.68" y="515.75" width="6.6" height="17.049999999999955" fill="#00fc04"/>
<path d="M426.68,532.8 V515.75 H433.28 V532.8" fill="none" stroke="#1a1a1a" stroke-width="1"/>
<rect x="435.93" y="514.0" width="6.6" height="18.799999999999955" fill="#ff0000"/>
<path d="M435.93,532.8 V514.0 H442.53 V532.8" fill="none" stroke="#1a1a1a" stroke-width="1"/>
<rect x="445.18" y="514.0" width="6.6" height="18.799999999999955" fill="#ff0000"/>
<path d="M445.18,532.8 V514.0 H451.78 V532.8" fill="none" stroke="#1a1a1a" stroke-width="1"/>
<rect x="454.43" y="514.0" width="6.6" height="18.799999999999955" fill="#00fc04"/>
<path d="M454.43,532.8 V514.0 H461.03 V532.8" fill="none" stroke="#1a1a1a" stroke-width="1"/>
<rect x="463.67" y="484.75" width="6.6" height="48.049999999999955" fill="#00fc04"/>
<path d="M463.67,532.8 V484.75 H470.27 V532.8" fill="none" stroke="#1a1a1a" stroke-width="1"/>
<rect x="472.92" y="521.75" width="6.6" height="11.049999999999955" fill="#ff0000"/>
<path d="M472.92,532.8 V521.75 H479.52 V532.8" fill="none" stroke="#1a1a1a" stroke-width="1"/>
<rect x="482.17" y="522.75" width="6.6" height="10.049999999999955" fill="#00fc04"/>
<path d="M482.17,532.8 V522.75 H488.77 V532.8" fill="none" stroke="#1a1a1a" stroke-width="1"/>
<rect x="491.42" y="519.75" width="6.6" height="13.049999999999955" fill="#00fc04"/>
<path d="M491.42,532.8 V519.75 H498.02 V532.8" fill="none" stroke="#1a1a1a" stroke-width="1"/>
<rect x="500.67" y="524.75" width="6.6" height="8.049999999999955" fill="#00fc04"/>
<path d="M500.67,532.8 V524.75 H507.27 V532.8" fill="none" stroke="#1a1a1a" stroke-width="1"/>
<rect x="509.92" y="514.75" width="6.6" height="18.049999999999955" fill="#00fc04"/>
<path d="M509.92,532.8 V514.75 H516.52 V532.8" fill="none" stroke="#1a1a1a" stroke-width="1"/>
<rect x="519.17" y="514.0" width="6.6" height="18.799999999999955" fill="#00fc04"/>
<path d="M519.17,532.8 V514.0 H525.77 V532.8" fill="none" stroke="#1a1a1a" stroke-width="1"/>
<rect x="528.42" y="512.0" width="6.6" height="20.799999999999955" fill="#00fc04"/>
<path d="M528.42,532.8 V512.0 H535.02 V532.8" fill="none" stroke="#1a1a1a" stroke-width="1"/>
<rect x="537.67" y="512.0" width="6.6" height="20.799999999999955" fill="#00fc04"/>
<path d="M537.67,532.8 V512.0 H544.27 V532.8" fill="none" stroke="#1a1a1a" stroke-width="1"/>
<rect x="546.92" y="512.0" width="6.6" height="20.799999999999955" fill="#00fc04"/>
<path d="M546.92,532.8 V512.0 H553.52 V532.8" fill="none" stroke="#1a1a1a" stroke-width="1"/>
<rect x="556.17" y="513.0" width="6.6" height="19.799999999999955" fill="#00fc04"/>
<path d="M556.17,532.8 V513.0 H562.77 V532.8" fill="none" stroke="#1a1a1a" stroke-width="1"/>
<rect x="565.42" y="516.0" width="6.6" height="16.799999999999955" fill="#00fc04"/>
<path d="M565.42,532.8 V516.0 H572.02 V532.8" fill="none" stroke="#1a1a1a" stroke-width="1"/>
<rect x="574.67" y="514.0" width="6.6" height="18.799999999999955" fill="#00fc04"/>
<path d="M574.67,532.8 V514.0 H581.27 V532.8" fill="none" stroke="#1a1a1a" stroke-width="1"/>
<rect x="583.92" y="510.0" width="6.6" height="22.799999999999955" fill="#ff0000"/>
<path d="M583.92,532.8 V510.0 H590.52 V532.8" fill="none" stroke="#1a1a1a" stroke-width="1"/>
<rect x="593.17" y="512.0" width="6.6" height="20.799999999999955" fill="#00fc04"/>
<path d="M593.17,532.8 V512.0 H599.77 V532.8" fill="none" stroke="#1a1a1a" stroke-width="1"/>
<rect x="602.42" y="510.0" width="6.6" height="22.799999999999955" fill="#ff0000"/>
<path d="M602.42,532.8 V510.0 H609.02 V532.8" fill="none" stroke="#1a1a1a" stroke-width="1"/>
<rect x="611.67" y="511.0" width="6.6" height="21.799999999999955" fill="#ff0000"/>
<path d="M611.67,532.8 V511.0 H618.27 V532.8" fill="none" stroke="#1a1a1a" stroke-width="1"/>
<rect x="620.92" y="511.0" width="6.6" height="21.799999999999955" fill="#ff0000"/>
<path d="M620.92,532.8 V511.0 H627.52 V532.8" fill="none" stroke="#1a1a1a" stroke-width="1"/>
<rect x="630.17" y="512.0" width="6.6" height="20.799999999999955" fill="#ff0000"/>
<path d="M630.17,532.8 V512.0 H636.77 V532.8" fill="none" stroke="#1a1a1a" stroke-width="1"/>
<rect x="639.42" y="508.25" width="6.6" height="24.549999999999955" fill="#00fc04"/>
<path d="M639.42,532.8 V508.25 H646.02 V532.8" fill="none" stroke="#1a1a1a" stroke-width="1"/>
<rect x="648.66" y="514.0" width="6.6" height="18.799999999999955" fill="#00fc04"/>
<path d="M648.66,532.8 V514.0 H655.26 V532.8" fill="none" stroke="#1a1a1a" stroke-width="1"/>
<rect x="657.91" y="516.0" width="6.6" height="16.799999999999955" fill="#00fc04"/>
<path d="M657.91,532.8 V516.0 H664.51 V532.8" fill="none" stroke="#1a1a1a" stroke-width="1"/>
<rect x="667.16" y="513.0" width="6.6" height="19.799999999999955" fill="#ff0000"/>
<path d="M667.16,532.8 V513.0 H673.76 V532.8" fill="none" stroke="#1a1a1a" stroke-width="1"/>
<rect x="676.41" y="509.0" width="6.6" height="23.799999999999955" fill="#ff0000"/>
<path d="M676.41,532.8 V509.0 H683.01 V532.8" fill="none" stroke="#1a1a1a" stroke-width="1"/>
<rect x="685.66" y="506.25" width="6.6" height="26.549999999999955" fill="#ff0000"/>
<path d="M685.66,532.8 V506.25 H692.26 V532.8" fill="none" stroke="#1a1a1a" stroke-width="1"/>
<rect x="694.91" y="509.0" width="6.6" height="23.799999999999955" fill="#00fc04"/>
<path d="M694.91,532.8 V509.0 H701.51 V532.8" fill="none" stroke="#1a1a1a" stroke-width="1"/>
<rect x="704.16" y="512.0" width="6.6" height="20.799999999999955" fill="#00fc04"/>
<path d="M704.16,532.8 V512.0 H710.76 V532.8" fill="none" stroke="#1a1a1a" stroke-width="1"/>
<rect x="713.41" y="508.25" width="6.6" height="24.549999999999955" fill="#ff0000"/>
<path d="M713.41,532.8 V508.25 H720.01 V532.8" fill="none" stroke="#1a1a1a" stroke-width="1"/>
<rect x="722.66" y="500.5" width="6.6" height="32.299999999999955" fill="#ff0000"/>
<path d="M722.66,532.8 V500.5 H729.26 V532.8" fill="none" stroke="#1a1a1a" stroke-width="1"/>
<rect x="731.91" y="505.25" width="6.6" height="27.549999999999955" fill="#ff0000"/>
<path d="M731.91,532.8 V505.25 H738.51 V532.8" fill="none" stroke="#1a1a1a" stroke-width="1"/>
<rect x="741.16" y="512.0" width="6.6" height="20.799999999999955" fill="#00fc04"/>
<path d="M741.16,532.8 V512.0 H747.76 V532.8" fill="none" stroke="#1a1a1a" stroke-width="1"/>
<rect x="750.41" y="515.0" width="6.6" height="17.799999999999955" fill="#00fc04"/>
<path d="M750.41,532.8 V515.0 H757.01 V532.8" fill="none" stroke="#1a1a1a" stroke-width="1"/>
<rect x="759.66" y="511.0" width="6.6" height="21.799999999999955" fill="#ff0000"/>
<path d="M759.66,532.8 V511.0 H766.26 V532.8" fill="none" stroke="#1a1a1a" stroke-width="1"/>
<rect x="768.91" y="503.25" width="6.6" height="29.549999999999955" fill="#ff0000"/>
<path d="M768.91,532.8 V503.25 H775.51 V532.8" fill="none" stroke="#1a1a1a" stroke-width="1"/>
<rect x="778.16" y="503.25" width="6.6" height="29.549999999999955" fill="#ff0000"/>
<path d="M778.16,532.8 V503.25 H784.76 V532.8" fill="none" stroke="#1a1a1a" stroke-width="1"/>
<rect x="787.41" y="502.25" width="6.6" height="30.549999999999955" fill="#00fc04"/>
<path d="M787.41,532.8 V502.25 H794.01 V532.8" fill="none" stroke="#1a1a1a" stroke-width="1"/>
<rect x="796.66" y="515.75" width="6.6" height="17.049999999999955" fill="#ff0000"/>
<path d="M796.66,532.8 V515.75 H803.26 V532.8" fill="none" stroke="#1a1a1a" stroke-width="1"/>
<rect x="805.91" y="509.0" width="6.6" height="23.799999999999955" fill="#00fc04"/>
<path d="M805.91,532.8 V509.0 H812.51 V532.8" fill="none" stroke="#1a1a1a" stroke-width="1"/>
<rect x="815.16" y="508.0" width="6.6" height="24.799999999999955" fill="#00fc04"/>
<path d="M815.16,532.8 V508.0 H821.76 V532.8" fill="none" stroke="#1a1a1a" stroke-width="1"/>
<rect x="824.41" y="512.0" width="6.6" height="20.799999999999955" fill="#ff0000"/>
<path d="M824.41,532.8 V512.0 H831.01 V532.8" fill="none" stroke="#1a1a1a" stroke-width="1"/>
<rect x="833.65" y="510.0" width="6.6" height="22.799999999999955" fill="#00fc04"/>
<path d="M833.65,532.8 V510.0 H840.25 V532.8" fill="none" stroke="#1a1a1a" stroke-width="1"/>
<rect x="842.90" y="514.0" width="6.6" height="18.799999999999955" fill="#ff0000"/>
<path d="M842.90,532.8 V514.0 H849.50 V532.8" fill="none" stroke="#1a1a1a" stroke-width="1"/>
<rect x="852.15" y="512.0" width="6.6" height="20.799999999999955" fill="#ff0000"/>
<path d="M852.15,532.8 V512.0 H858.75 V532.8" fill="none" stroke="#1a1a1a" stroke-width="1"/>
<rect x="861.40" y="513.0" width="6.6" height="19.799999999999955" fill="#00fc04"/>
<path d="M861.40,532.8 V513.0 H868.00 V532.8" fill="none" stroke="#1a1a1a" stroke-width="1"/>
<rect x="870.65" y="513.0" width="6.6" height="19.799999999999955" fill="#00fc04"/>
<path d="M870.65,532.8 V513.0 H877.25 V532.8" fill="none" stroke="#1a1a1a" stroke-width="1"/>
<rect x="879.90" y="498.5" width="6.6" height="34.299999999999955" fill="#ff0000"/>
<path d="M879.90,532.8 V498.5 H886.50 V532.8" fill="none" stroke="#1a1a1a" stroke-width="1"/>
<rect x="889.15" y="504.25" width="6.6" height="28.549999999999955" fill="#ff0000"/>
<path d="M889.15,532.8 V504.25 H895.75 V532.8" fill="none" stroke="#1a1a1a" stroke-width="1"/>
<rect x="898.40" y="494.75" width="6.6" height="38.049999999999955" fill="#ff0000"/>
<path d="M898.40,532.8 V494.75 H905.00 V532.8" fill="none" stroke="#1a1a1a" stroke-width="1"/>
<rect x="907.65" y="506.0" width="6.6" height="26.799999999999955" fill="#00fc04"/>
<path d="M907.65,532.8 V506.0 H914.25 V532.8" fill="none" stroke="#1a1a1a" stroke-width="1"/>
<rect x="916.90" y="505.25" width="6.6" height="27.549999999999955" fill="#ff0000"/>
<path d="M916.90,532.8 V505.25 H923.50 V532.8" fill="none" stroke="#1a1a1a" stroke-width="1"/>
<line x1="1" y1="98.3" x2="973" y2="98.3" stroke="#ff0000" stroke-width="2.2"/>
<line x1="303" y1="181.8" x2="973" y2="181.8" stroke="#ff6a6a" stroke-width="1.8"/>
<line x1="0" y1="353.3" x2="973" y2="353.3" stroke="#2f9a2f" stroke-width="1.3"/>
<line x1="0" y1="421.9" x2="973" y2="421.9" stroke="#109010" stroke-width="2.1"/>
<path d="M0.0,296.7 C3.1,296.6 12.6,296.0 18.8,295.9 C25.1,295.8 31.2,296.0 37.5,295.9 C43.8,295.8 48.5,295.6 56.3,295.5 C64.1,295.4 75.7,295.5 84.4,295.5 C93.2,295.5 101.6,295.5 108.8,295.3 C116.0,295.1 122.0,294.7 127.6,294.4 C133.2,294.1 137.3,293.9 142.6,293.5 C147.9,293.1 153.6,292.7 159.5,292.2 C165.4,291.7 172.8,290.8 178.2,290.3 C183.6,289.8 186.6,289.9 192.0,289.4 C197.4,288.9 204.6,287.6 210.8,287.1 C217.1,286.6 223.9,286.4 229.5,286.2 C235.1,286.0 239.8,285.8 244.5,286.2 C249.2,286.6 252.4,287.9 257.7,288.5 C263.0,289.1 270.1,289.4 276.4,290.0 C282.6,290.6 288.9,291.5 295.2,292.2 C301.5,292.9 307.8,293.5 314.0,294.1 C320.2,294.7 326.4,295.5 332.7,296.0 C338.9,296.5 345.2,296.9 351.5,297.3 C357.8,297.7 364.8,297.9 370.2,298.2 C375.6,298.4 377.0,298.7 384.0,298.8 C391.0,298.9 401.8,298.8 412.1,298.8 C422.4,298.8 436.5,299.1 445.9,298.8 C455.3,298.5 459.9,297.4 468.4,296.9 C476.8,296.4 488.8,296.0 496.6,295.6 C504.4,295.2 509.0,295.1 515.3,294.5 C521.5,293.9 527.8,293.1 534.1,292.2 C540.4,291.3 545.9,290.1 552.9,289.0 C559.9,287.9 568.5,286.4 576.0,285.3 C583.5,284.2 590.4,283.4 597.6,282.5 C604.8,281.6 612.0,281.0 619.2,280.2 C626.4,279.4 633.7,278.5 640.9,277.6 C648.1,276.7 656.0,275.9 662.5,274.8 C669.0,273.8 675.5,271.9 679.8,271.3 C684.1,270.7 684.1,271.5 688.4,271.0 C692.7,270.5 699.2,269.5 705.7,268.5 C712.2,267.5 722.0,266.0 727.4,265.2 C732.8,264.4 733.9,264.5 738.2,263.9 C742.5,263.3 748.3,262.5 753.3,261.4 C758.3,260.2 761.4,258.4 768.0,257.0 C774.6,255.6 784.7,254.9 793.0,253.2 C801.3,251.6 811.9,248.6 818.0,247.0 C824.1,245.4 825.0,244.7 829.4,243.6 C833.8,242.5 838.8,241.4 844.4,240.4 C850.0,239.4 856.9,238.4 863.2,237.6 C869.5,236.8 877.1,236.1 882.0,235.7 C886.9,235.3 888.2,234.9 892.3,235.1 C896.3,235.2 901.5,236.1 906.3,236.6 C911.1,237.1 918.5,237.8 921.0,238.1" fill="none" stroke="#ffc266" stroke-width="1.2"/>
<path d="M0.0,295.9 C1.9,295.6 7.6,294.9 11.3,294.4 C15.1,293.9 18.1,293.4 22.5,293.1 C26.9,292.9 32.8,292.8 37.5,292.9 C42.2,293.0 46.0,294.0 50.7,293.8 C55.4,293.6 60.1,291.9 65.7,291.6 C71.3,291.3 78.2,291.9 84.4,292.0 C90.7,292.1 96.9,292.2 103.2,292.5 C109.5,292.8 115.8,293.2 122.0,293.5 C128.2,293.8 134.4,294.0 140.7,294.4 C146.9,294.8 153.2,295.3 159.5,295.7 C165.8,296.1 172.8,296.6 178.2,296.8 C183.6,297.0 187.8,297.0 192.0,296.9 C196.2,296.8 199.2,296.5 203.3,296.0 C207.4,295.5 212.0,294.6 216.4,294.1 C220.8,293.6 225.4,293.0 229.5,292.8 C233.6,292.6 236.7,292.4 240.8,292.8 C244.9,293.2 249.5,294.2 253.9,295.0 C258.3,295.8 262.6,297.0 267.0,297.8 C271.4,298.6 275.8,299.3 280.2,299.7 C284.6,300.1 288.6,300.3 293.3,300.3 C298.0,300.3 303.3,300.0 308.3,299.7 C313.3,299.4 317.7,298.7 323.3,298.4 C328.9,298.1 335.8,298.2 342.1,297.8 C348.4,297.4 353.9,296.5 360.9,296.0 C367.9,295.5 377.0,295.2 384.0,295.0 C391.0,294.8 396.6,294.7 402.8,294.7 C409.1,294.7 415.2,294.8 421.5,295.0 C427.8,295.2 435.6,295.4 440.3,296.0 C445.0,296.6 445.0,297.9 449.7,298.4 C454.4,298.9 462.1,299.1 468.4,299.2 C474.6,299.3 481.2,299.3 487.2,299.2 C493.1,299.1 499.4,298.9 504.1,298.4 C508.8,297.9 510.9,296.9 515.3,296.0 C519.7,295.1 525.6,293.9 530.3,292.8 C535.0,291.7 538.2,290.9 543.5,289.4 C548.8,287.9 556.8,285.6 562.2,283.8 C567.6,282.0 570.1,280.6 576.0,278.5 C581.9,276.4 591.1,273.4 597.6,271.1 C604.1,268.8 608.8,266.1 614.9,264.6 C621.0,263.2 629.0,263.7 634.4,262.4 C639.8,261.1 642.7,258.7 647.4,257.0 C652.1,255.3 657.8,253.5 662.5,252.3 C667.2,251.1 671.2,250.6 675.5,249.9 C679.8,249.2 684.8,248.9 688.4,248.4 C692.0,247.9 693.5,248.2 697.1,246.9 C700.7,245.6 705.0,243.1 710.0,240.8 C715.0,238.5 723.1,235.0 727.4,233.2 C731.7,231.4 731.5,232.1 736.0,230.0 C740.5,227.9 748.9,222.8 754.2,220.4 C759.5,218.0 763.9,216.7 768.0,215.3 C772.1,213.9 773.9,214.0 778.8,212.2 C783.7,210.4 791.2,207.2 797.5,204.7 C803.8,202.2 810.0,199.4 816.3,197.2 C822.5,195.0 828.8,193.5 835.0,191.6 C841.2,189.7 848.8,187.6 853.8,186.0 C858.8,184.4 861.4,183.4 865.1,182.2 C868.9,181.0 872.5,179.7 876.3,178.8 C880.0,178.0 884.9,177.4 887.6,177.1 C890.3,176.8 890.1,176.8 892.3,177.0 C894.5,177.2 897.7,178.1 900.7,178.1 C903.7,178.1 906.7,177.0 910.1,177.0 C913.5,177.0 919.2,177.9 921.0,178.1" fill="none" stroke="#ff99cc" stroke-width="1.2"/>
<path d="M0.0,304.7 C1.6,303.9 6.3,301.4 9.4,299.7 C12.5,298.0 15.7,296.4 18.8,294.4 C21.9,292.4 24.4,290.1 28.1,287.8 C31.9,285.5 37.5,281.7 41.3,280.3 C45.1,278.9 47.3,280.6 50.7,279.4 C54.1,278.1 57.9,274.8 61.9,272.8 C66.0,270.8 70.6,269.2 75.0,267.2 C79.4,265.2 83.8,262.9 88.2,261.0 C92.6,259.1 97.2,257.3 101.3,255.9 C105.4,254.5 108.8,253.3 112.6,252.6 C116.3,251.9 120.0,251.4 123.8,251.6 C127.5,251.8 130.7,252.5 135.1,253.5 C139.5,254.5 145.7,256.6 150.1,257.8 C154.5,259.1 157.7,259.8 161.4,261.0 C165.2,262.2 169.2,263.6 172.6,265.3 C176.0,267.0 178.8,269.1 182.0,271.0 C185.2,272.9 188.8,275.4 192.0,276.8 C195.2,278.2 197.7,278.7 201.4,279.1 C205.2,279.6 210.4,279.5 214.5,279.5 C218.6,279.5 222.2,279.1 225.8,279.1 C229.4,279.1 233.0,278.7 236.1,279.6 C239.2,280.5 241.2,282.4 244.5,284.7 C247.8,287.0 252.1,290.7 255.8,293.5 C259.6,296.3 263.6,299.0 267.0,301.6 C270.4,304.2 273.3,306.6 276.4,309.1 C279.5,311.6 282.7,314.2 285.8,316.6 C288.9,319.0 292.1,321.3 295.2,323.2 C298.3,325.1 301.5,327.0 304.6,328.2 C307.7,329.4 310.9,329.6 314.0,330.3 C317.1,331.0 320.2,331.8 323.3,332.6 C326.4,333.5 329.6,334.4 332.7,335.4 C335.8,336.4 339.0,337.7 342.1,338.7 C345.2,339.7 348.4,340.9 351.5,341.4 C354.6,341.9 357.8,342.1 360.9,341.6 C364.0,341.1 367.1,338.9 370.2,338.2 C373.3,337.5 375.7,337.5 379.6,337.2 C383.5,336.9 389.7,336.1 393.4,336.3 C397.1,336.5 398.7,338.2 401.8,338.2 C404.9,338.2 408.8,337.1 412.1,336.3 C415.4,335.5 418.4,334.9 421.5,333.5 C424.6,332.1 427.8,329.9 430.9,327.9 C434.0,325.9 437.2,323.2 440.3,321.3 C443.4,319.4 446.6,318.1 449.7,316.2 C452.8,314.3 455.9,312.6 459.0,310.0 C462.1,307.4 465.3,303.3 468.4,300.7 C471.5,298.1 475.0,296.1 477.8,294.1 C480.6,292.1 482.2,290.2 485.3,288.5 C488.4,286.8 491.9,286.0 496.6,283.8 C501.3,281.6 508.8,278.6 513.5,275.3 C518.2,272.0 520.3,268.3 524.7,264.1 C529.1,259.9 534.2,255.3 539.7,250.0 C545.2,244.7 552.0,237.9 558.0,232.0 C564.0,226.1 570.5,219.8 576.0,214.7 C581.5,209.6 586.0,205.8 591.0,201.6 C596.0,197.4 600.7,192.8 606.0,189.4 C611.3,186.0 617.3,183.8 622.9,181.0 C628.5,178.2 634.5,174.8 639.8,172.5 C645.1,170.2 649.8,168.9 654.8,166.9 C659.8,164.9 665.6,162.0 669.8,160.3 C674.0,158.6 676.4,157.1 680.1,156.6 C683.9,156.1 687.8,157.2 692.3,157.5 C696.8,157.8 702.9,157.9 707.3,158.4 C711.7,158.9 714.5,159.1 718.6,160.3 C722.7,161.6 727.3,164.2 731.7,165.9 C736.1,167.6 740.8,169.2 744.9,170.6 C749.0,172.0 752.0,173.1 756.1,174.4 C760.2,175.7 765.3,177.1 769.4,178.5 C773.5,179.9 777.2,181.8 780.6,182.8 C784.0,183.8 786.7,184.3 790.0,184.7 C793.3,185.1 797.2,185.6 800.3,185.4 C803.4,185.2 805.8,184.5 808.8,183.5 C811.8,182.5 813.8,180.7 818.2,179.4 C822.6,178.2 829.1,176.9 835.0,176.0 C840.9,175.1 848.9,174.5 853.8,173.8 C858.6,173.1 860.7,173.3 864.1,171.9 C867.5,170.5 871.3,167.2 874.4,165.3 C877.5,163.4 879.9,160.9 882.9,160.3 C885.9,159.7 889.2,160.3 892.3,161.6 C895.4,162.9 898.7,166.5 901.7,168.1 C904.7,169.7 906.9,169.7 910.1,171.0 C913.3,172.3 919.2,175.2 921.0,176.0" fill="none" stroke="#7676ee" stroke-width="1.2"/>
<path d="M73.0,410.0 C77.5,408.5 91.3,404.0 100.0,401.2 C108.7,398.5 116.7,396.0 125.0,393.8 C133.3,391.5 141.7,389.8 150.0,388.0 C158.3,386.2 166.7,384.7 175.0,383.0 C183.3,381.3 191.7,379.5 200.0,378.0 C208.3,376.5 215.7,375.2 225.0,373.8 C234.3,372.3 243.8,370.8 256.0,369.5 C268.2,368.2 284.8,367.3 298.5,366.2 C312.2,365.2 324.8,364.2 338.5,363.0 C352.2,361.8 367.2,360.3 381.0,358.8 C394.8,357.2 410.1,355.0 421.5,353.6 C432.9,352.2 440.3,351.4 449.7,350.4 C459.1,349.4 467.2,348.8 477.8,347.6 C488.4,346.4 502.6,344.6 513.5,343.2 C524.5,341.8 533.1,340.8 543.5,339.1 C553.9,337.4 567.0,335.1 576.0,333.1 C585.0,331.1 590.4,329.2 597.6,327.3 C604.8,325.4 612.0,323.9 619.2,321.9 C626.4,319.9 633.7,317.8 640.9,315.4 C648.1,313.0 655.3,309.7 662.5,307.4 C669.7,305.1 676.9,303.2 684.1,301.4 C691.3,299.6 698.5,298.3 705.7,296.6 C712.9,294.9 720.2,292.9 727.4,291.2 C734.6,289.5 742.2,288.1 749.0,286.6 C755.8,285.2 756.5,284.3 768.0,282.5 C779.5,280.7 801.3,277.9 818.0,275.8 C834.7,273.6 854.7,271.0 868.0,269.5 C881.3,268.0 889.2,267.2 898.0,266.8 C906.8,266.3 916.8,266.8 920.5,266.8" fill="none" stroke="#4aa84a" stroke-width="1.5" stroke-dasharray="6.3,4.2"/>
</svg>
<div id="hdr"><div class="tl"></div><div class="bl"></div>
<div class="vsep" style="left:171.5px"></div><div class="vsep" style="left:227.6px"></div><div class="vsep" style="left:948.6px"></div>
<div id="sym">DAX</div><div id="nm">DAX</div><div id="px">23.815,75 (-1,61%)</div>
<div id="tf">1 T</div>
<svg style="left:210px;top:22px" width="10" height="8" viewBox="0 0 10 8"><path d="M1.4,2.2 L4.7,5.2 L8.0,2.2" fill="none" stroke="#444" stroke-width="1.35"/></svg>
<svg style="left:978.9px;top:9.2px" width="19.2" height="20" viewBox="0 0 19.2 20">
<rect x="0.4" y="13.7" width="3.3" height="5" fill="#11b011"/>
<rect x="3.7" y="16.1" width="3.3" height="2.6" fill="#e23a3a"/>
<rect x="7" y="16.5" width="2.8" height="2.2" fill="#11b011"/>
<rect x="9.8" y="15.3" width="2.3" height="3.4" fill="#11b011"/>
<rect x="12.1" y="15.6" width="2.8" height="3.1" fill="#e23a3a"/>
<rect x="14.9" y="14" width="3.8" height="4.7" fill="#11b011"/>
<rect x="0.3" y="18.5" width="18.6" height="1.1" fill="#111"/>
<path d="M0.3,3.8 C1.8,0.2 4.6,-0.2 6.4,2.6 C8.6,6 10.2,11.7 13.2,11.7 C15.6,11.7 17.6,7.5 18.9,3.8" fill="none" stroke="#2aa52a" stroke-width="1.2"/>
<path d="M0.3,5.6 C1.8,2.4 4.2,1.8 5.8,3.8" fill="none" stroke="#8fd48f" stroke-width="0.8"/>
<path d="M0.3,8.2 C2,6 3.6,5 5.2,5 C7.4,5 9,6.4 10.7,7.2 C13,8.3 15.5,8.2 18.5,9.3" fill="none" stroke="#f08a70" stroke-width="1.1"/>
<path d="M5.4,7.2 L8.2,10 L6.6,10 L6.6,12 L4.2,12 L4.2,10 L2.6,10 Z" fill="#16a516"/>
<path d="M13.1,5 L10.4,2.4 L12,2.4 L12,0.3 L14.2,0.3 L14.2,2.4 L15.8,2.4 Z" fill="#d42a2a"/>
</svg>
<div id="ind">Indikatoren</div>
</div>
<div id="axis"></div>
<div id="xaxis"><span style="left:-6.25px">13</span><span style="left:30.25px">17</span><span style="left:67.00px">23</span><span style="left:103.75px">29</span><span class="b" style="left:132.00px">Nov</span><span style="left:168.75px">07</span><span style="left:205.75px">13</span><span style="left:243.00px">19</span><span style="left:279.75px">25</span><span class="b" style="left:317.25px">Dez</span><span style="left:353.75px">05</span><span style="left:390.50px">11</span><span style="left:427.50px">17</span><span style="left:464.25px">23</span><span class="b" style="left:492.75px">2026</span><span style="left:530.25px">08</span><span style="left:566.50px">14</span><span style="left:603.25px">20</span><span style="left:640.25px">26</span><span class="b" style="left:686.50px">Feb</span><span style="left:723.25px">06</span><span style="left:761.25px">12</span><span style="left:798.00px">18</span><span style="left:835.00px">24</span><span class="b" style="left:871.75px">Mär</span><span style="left:908.75px">06</span><span style="left:945.75px">12</span></div>
<div style="position:absolute;left:0;top:478.8px;width:1024px;height:1.5px;background:#dcdcdc"></div>
<div style="position:absolute;left:0;top:537.2px;width:974px;height:1.6px;background:#e6e6e6"></div>
<div style="position:absolute;left:974px;top:86.8px;width:3px;height:1px;background:#d8d8d8"></div><div style="position:absolute;left:974px;top:153.7px;width:3px;height:1px;background:#d8d8d8"></div><div style="position:absolute;left:974px;top:221.8px;width:3px;height:1px;background:#d8d8d8"></div><div style="position:absolute;left:974px;top:291.7px;width:3px;height:1px;background:#d8d8d8"></div><div style="position:absolute;left:974px;top:362.7px;width:3px;height:1px;background:#d8d8d8"></div><div style="position:absolute;left:974px;top:434.5px;width:3px;height:1px;background:#d8d8d8"></div><div style="position:absolute;left:974px;top:494.8px;width:3px;height:1px;background:#d8d8d8"></div><div style="position:absolute;left:13.75px;top:538.8px;width:1px;height:1.2px;background:#e8e8e8"></div><div style="position:absolute;left:50.25px;top:538.8px;width:1px;height:1.2px;background:#e8e8e8"></div><div style="position:absolute;left:87.00px;top:538.8px;width:1px;height:1.2px;background:#e8e8e8"></div><div style="position:absolute;left:123.75px;top:538.8px;width:1px;height:1.2px;background:#e8e8e8"></div><div style="position:absolute;left:152.00px;top:538.8px;width:1px;height:1.2px;background:#e8e8e8"></div><div style="position:absolute;left:188.75px;top:538.8px;width:1px;height:1.2px;background:#e8e8e8"></div><div style="position:absolute;left:225.75px;top:538.8px;width:1px;height:1.2px;background:#e8e8e8"></div><div style="position:absolute;left:263.00px;top:538.8px;width:1px;height:1.2px;background:#e8e8e8"></div><div style="position:absolute;left:299.75px;top:538.8px;width:1px;height:1.2px;background:#e8e8e8"></div><div style="position:absolute;left:337.25px;top:538.8px;width:1px;height:1.2px;background:#e8e8e8"></div><div style="position:absolute;left:373.75px;top:538.8px;width:1px;height:1.2px;background:#e8e8e8"></div><div style="position:absolute;left:410.50px;top:538.8px;width:1px;height:1.2px;background:#e8e8e8"></div><div style="position:absolute;left:447.50px;top:538.8px;width:1px;height:1.2px;background:#e8e8e8"></div><div style="position:absolute;left:484.25px;top:538.8px;width:1px;height:1.2px;background:#e8e8e8"></div><div style="position:absolute;left:512.75px;top:538.8px;width:1px;height:1.2px;background:#e8e8e8"></div><div style="position:absolute;left:550.25px;top:538.8px;width:1px;height:1.2px;background:#e8e8e8"></div><div style="position:absolute;left:586.50px;top:538.8px;width:1px;height:1.2px;background:#e8e8e8"></div><div style="position:absolute;left:623.25px;top:538.8px;width:1px;height:1.2px;background:#e8e8e8"></div><div style="position:absolute;left:660.25px;top:538.8px;width:1px;height:1.2px;background:#e8e8e8"></div><div style="position:absolute;left:706.50px;top:538.8px;width:1px;height:1.2px;background:#e8e8e8"></div><div style="position:absolute;left:743.25px;top:538.8px;width:1px;height:1.2px;background:#e8e8e8"></div><div style="position:absolute;left:781.25px;top:538.8px;width:1px;height:1.2px;background:#e8e8e8"></div><div style="position:absolute;left:818.00px;top:538.8px;width:1px;height:1.2px;background:#e8e8e8"></div><div style="position:absolute;left:855.00px;top:538.8px;width:1px;height:1.2px;background:#e8e8e8"></div><div style="position:absolute;left:891.75px;top:538.8px;width:1px;height:1.2px;background:#e8e8e8"></div><div style="position:absolute;left:928.75px;top:538.8px;width:1px;height:1.2px;background:#e8e8e8"></div><div style="position:absolute;left:965.75px;top:538.8px;width:1px;height:1.2px;background:#e8e8e8"></div>

<div class="chip" style="left:4.2px;width:43.1px"><i style="background:linear-gradient(90deg,#12f236 50%,#ff0000 50%)"></i><b>Kurs</b></div>
<div class="chip" style="left:51.3px;width:64.5px"><i style="background:#3333dd"></i><b>SMA (20)</b></div>
<div class="chip" style="left:120.3px;width:65.3px"><i style="background:#ff80c0"></i><b>SMA (50)</b></div>
<div class="chip" style="left:190.4px;width:71px"><i style="background:#ffbb44"></i><b>SMA (100)</b></div>
<div class="chip" style="left:265.9px;width:71.1px"><i style="background:#008000"></i><b>SMA (200)</b></div>
<div class="chip" style="left:4.2px;width:62.3px;top:484px"><i style="background:linear-gradient(90deg,#12f236 50%,#ff0000 50%)"></i><b style="left:16px">Volumen</b></div>

<div class="tag" style="left:1px;top:88px;width:60px;background:#ff0000">25420.66</div>
<div class="tag" style="left:302.5px;top:171.7px;width:73.5px;height:21px;background:#ff0000">24800.9102</div>
<div class="tag" style="left:1px;top:342.5px;width:72px;height:20.8px;line-height:20.6px;background:#008000">23569.9609</div>
<div class="tag" style="left:1px;top:411.2px;width:72px;height:20.8px;line-height:20.6px;background:#008000">23091.8691</div>

<div class="ylab" style="top:79.7px">25.500</div>
<div class="ylab" style="top:146.6px">25.000</div>
<div class="ylab" style="top:214.5px">24.500</div>
<div class="ylab" style="top:284.5px">24.000</div>
<div class="ylab" style="top:356.4px">23.500</div>
<div class="ylab" style="top:428.4px">23.000</div>
<div class="ylab" style="top:488.1px">100M</div>
<div class="pchip" style="top:168.2px"></div>
<div class="pchip" style="top:170.4px;line-height:13px;color:#ff74b8">24.827,71</div>
<div class="pchip" style="top:230.3px;color:#ffbb44">24.388,26</div>
<div class="pchip" style="top:259.4px;color:#1f8f1f">24.174,58</div>
<div class="pchip" style="top:309.3px;left:972.8px;height:15.4px;color:#1a1a30;background:#f8d810;border-color:#f0b010">23.815,75</div>
<div class="pchip" style="top:497.2px;left:973.6px;color:#ff3333;width:38.1px;height:14px;line-height:13px;background:#fdfdfd">75,1M</div>

<svg style="left:4px;top:456px" width="18" height="19" viewBox="4 456 18 19"><g stroke="#444" stroke-width="1" fill="#444"><line x1="7.2" y1="463.2" x2="7.2" y2="473.7"/><rect x="6.3" y="465.2" width="1.8" height="6" /><line x1="12.2" y1="462" x2="12.2" y2="470.2"/><rect x="11.2" y="463.4" width="2" height="5.4" fill="#fbfbfb"/><line x1="17.3" y1="457.8" x2="17.3" y2="467"/><rect x="16.3" y="459.8" width="2" height="5.2" fill="#fbfbfb"/></g></svg>
<div style="position:absolute;left:23.6px;top:458.3px;font-size:10.5px;color:#444;line-height:14px;white-space:nowrap">ProRealTime - <span style="font-size:9.6px;color:#5088ee;margin-left:2.4px">15 Min zeitverzögert</span></div>
</body></html>
